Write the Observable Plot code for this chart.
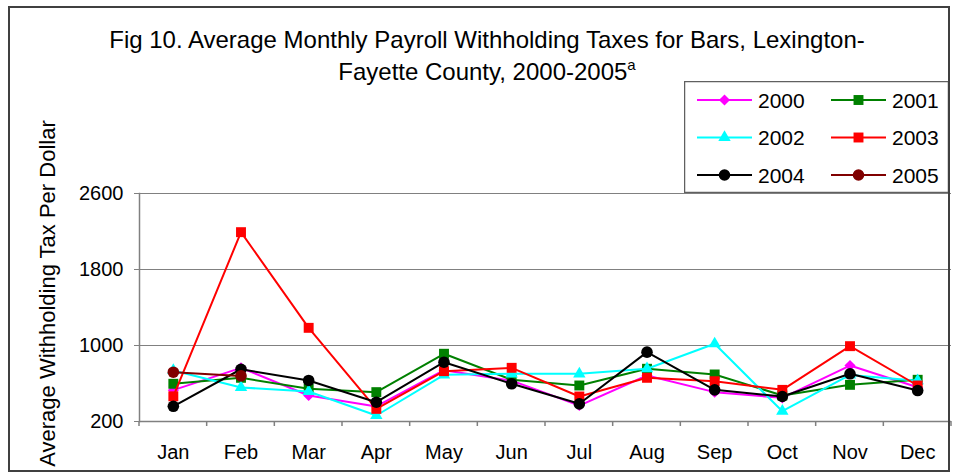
<!DOCTYPE html>
<html>
<head>
<meta charset="utf-8">
<script src="https://cdn.jsdelivr.net/npm/d3@7"></script>
<script src="https://cdn.jsdelivr.net/npm/@observablehq/plot@0.6"></script>
<style>
  body { margin: 0; background: white; font-family: "Liberation Sans", Arial, sans-serif; }
  #wrap { position: relative; width: 956px; height: 475px; overflow: hidden; background: white; }
  #frame { position: absolute; left: 8px; top: 6px; width: 942px; height: 466px; border: 2px solid #404040; box-sizing: border-box; pointer-events: none; }
  #title { position: absolute; left: 8px; width: 958px; top: 24px; text-align: center; font-size: 24px; line-height: 32px; color: #000; }
  #title sup { font-size: 15px; vertical-align: 0; position: relative; top: -10px; }
  #legend { position: absolute; left: 684px; top: 81px; }
  #chart { position: absolute; left: 0; top: 0; }
</style>
</head>
<body>
<div id="wrap">
  <div id="chart"></div>
  <div id="title">Fig 10. Average Monthly Payroll Withholding Taxes for Bars, Lexington-<br>Fayette County, 2000-2005<sup>a</sup></div>
  <div id="legend"></div>
  <div id="frame"></div>
</div>
<script>
// ---- data ----
const months = ["Jan","Feb","Mar","Apr","May","Jun","Jul","Aug","Sep","Oct","Nov","Dec"];
const years = ["2000","2001","2002","2003","2004","2005"];
const y2000 = [530, 765, 474, 358, 740, 630, 368, 684, 509, 449, 789, 560];
const y2001 = [597, 660, 544, 509, 913, 639, 579, 755, 695, 474, 586, 639];
const y2002 = [737, 558, 516, 263, 691, 702, 702, 755, 1018, 308, 690, 630];
const y2003 = [465, 2193, 1186, 333, 730, 765, 463, 660, 624, 533, 993, 579];
const y2004 = [360, 750, 632, 403, 824, 597, 386, 930, 533, 463, 702, 526];
const y2005 = [719, 680];
const yTicks = [200, 1000, 1800, 2600];

// ---- styles ----
const valuesByYear = {"2000": y2000, "2001": y2001, "2002": y2002, "2003": y2003, "2004": y2004, "2005": y2005};
const colors = {"2000": "#FF00FF", "2001": "#008000", "2002": "#00FFFF", "2003": "#FF0000", "2004": "#000000", "2005": "#800000"};
const symbols = {"2000": "diamond2", "2001": "square", "2002": "triangle", "2003": "square", "2004": "circle", "2005": "circle"};
const radii = {"2000": 5.0, "2001": 5.6, "2002": 4.6, "2003": 5.6, "2004": 5.8, "2005": 5.8};

const rows = [];
for (const yr of years) {
  valuesByYear[yr].forEach((v, i) => rows.push({year: yr, month: months[i], value: v}));
}

const marks = [
  Plot.ruleY(yTicks.slice(1), {stroke: "#808080", strokeWidth: 1}),
  Plot.ruleY([yTicks[0]], {stroke: "#808080", strokeWidth: 1.5}),
  Plot.frame({anchor: "left", stroke: "#808080", strokeWidth: 1.5}),
  Plot.axisY({ticks: yTicks, tickSize: 5, tickPadding: 11, fontSize: 20, label: null, stroke: "#808080", tickFormat: d => String(d)}),
  Plot.axisX({tickSize: 0, tickPadding: 23, fontSize: 20, label: null}),
  Plot.text(["Average Withholding Tax Per Dollar"], {frameAnchor: "left", textAnchor: "middle", rotate: -90, dx: -92, dy: -14, fontSize: 22, fill: "black"})
];
for (const yr of years) {
  const d = rows.filter(r => r.year === yr);
  marks.push(Plot.line(d, {x: "month", y: "value", stroke: colors[yr], strokeWidth: 2}));
  marks.push(Plot.dot(d, {x: "month", y: "value", symbol: symbols[yr], r: radii[yr], fill: colors[yr], stroke: "none"}));
}

const plot = Plot.plot({
  width: 956,
  height: 475,
  marginLeft: 139,
  marginRight: 5,
  marginTop: 193,
  marginBottom: 54,
  style: {fontFamily: "'Liberation Sans', Arial, sans-serif", fontSize: "20px", color: "black", background: "transparent", overflow: "visible"},
  x: {type: "point", domain: months, padding: 0.5, round: false, label: null},
  y: {domain: [200, 2600], label: null},
  marks
});
document.getElementById("chart").appendChild(plot);

// x tick marks at month boundaries, from the plot's own scales
const sx = plot.scale("x"), sy = plot.scale("y");
const xs = months.map(m => sx.apply(m));
const step = xs[1] - xs[0];
const bounds = xs.map(x => x - step / 2).concat([xs[xs.length - 1] + step / 2]);
const y0 = sy.apply(yTicks[0]);
d3.select(plot).append("g")
  .selectAll("line").data(bounds).join("line")
  .attr("x1", d => d).attr("x2", d => d)
  .attr("y1", y0).attr("y2", y0 + 5)
  .attr("stroke", "#808080").attr("stroke-width", 1.5);

// legend
const leg = d3.select("#legend").append("svg")
  .attr("width", 265).attr("height", 112)
  .style("display", "block");
leg.append("rect").attr("x", 0.5).attr("y", 0.5).attr("width", 264).attr("height", 111)
  .attr("fill", "white").attr("stroke", "#606060").attr("stroke-width", 1.5);
const symMap = {diamond2: d3.symbolDiamond2, square: d3.symbolSquare, triangle: d3.symbolTriangle, circle: d3.symbolCircle};
years.forEach((yr, i) => {
  const col = i % 2, row = Math.floor(i / 2);
  const x0 = 13 + col * 134, cy = 19 + row * 37.5;
  const g = leg.append("g");
  g.append("line").attr("x1", x0).attr("x2", x0 + 55).attr("y1", cy).attr("y2", cy)
    .attr("stroke", colors[yr]).attr("stroke-width", 2);
  g.append("path").attr("transform", `translate(${x0 + 27.5},${cy})`)
    .attr("d", d3.symbol(symMap[symbols[yr]], Math.PI * radii[yr] * radii[yr])())
    .attr("fill", colors[yr]);
  g.append("text").attr("x", x0 + 61).attr("y", cy).attr("dy", "0.36em")
    .attr("font-size", 21).attr("font-family", "'Liberation Sans', Arial, sans-serif")
    .text(yr);
});
</script>
</body>
</html>
